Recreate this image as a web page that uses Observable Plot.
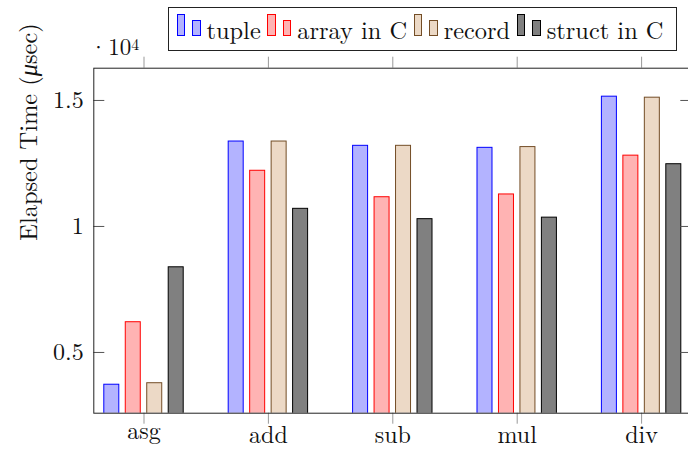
<!DOCTYPE html>
<html>
<head>
<meta charset="utf-8">
<script src="https://cdn.jsdelivr.net/npm/d3@7"></script>
<script src="https://cdn.jsdelivr.net/npm/@observablehq/plot@0.6"></script>
<style>
html, body { margin: 0; padding: 0; overflow: hidden; background: #fff; }
#wrap { position: relative; width: 688px; height: 450px; overflow: hidden; font-family: 'Latin Modern Roman'; }
#legend { position: absolute; left: 167.5px; top: 7.3px; height: 43.4px; box-sizing: border-box; border: 1px solid #222;
  background: #fff; display: flex; align-items: center; padding: 0 13px 3px 8px; }
.entry { display: flex; align-items: flex-end; margin-right: 6.5px; }
.entry:last-child { margin-right: 0; }
.bars { display: flex; align-items: flex-end; margin-bottom: 5px; margin-right: 6px; }
.sw { width: 8.5px; box-sizing: border-box; border: 1px solid; }
.sw1 { height: 21.4px; margin-right: 7px; }
.sw2 { height: 15.8px; }
.lab { font-family: 'Latin Modern Roman'; font-size: 24.4px; line-height: 24px; color: #111; white-space: nowrap; }
</style>
</head>
<body>
<div id="wrap"><div id="legend"></div></div>
<script>
// ---- data ----
const operations   = ["asg", "add", "sub", "mul", "div"];
const seriesNames  = ["tuple", "array in C", "record", "struct in C"];
const tupleTimes   = [3720, 13370, 13200, 13120, 15150];
const arrayCTimes  = [6200, 12210, 11160, 11270, 12810];
const recordTimes  = [3780, 13370, 13200, 13150, 15110];
const structCTimes = [8380, 10700, 10290, 10350, 12470];
const yTicks       = [5000, 10000, 15000];
const yLabel       = "Elapsed Time (μsec)";
const scaleDot     = "·";
const scaleBase    = "10";
const scaleExp     = "4";

// ---- styles ----
const fills   = ["#b3b3ff", "#ffb3b3", "#ecd9c6", "#808080"];
const strokes = ["#0000ff", "#ff0000", "#734d26", "#000000"];
const serif = "Latin Modern Roman";

const seriesValues = [tupleTimes, arrayCTimes, recordTimes, structCTimes];
const rows = [];
seriesValues.forEach((vals, s) => vals.forEach((v, i) =>
  rows.push({op: operations[i], i, s, series: seriesNames[s], value: v})));
const cats = operations.map((op, i) => ({op, i}));

const W = 688, H = 450, mL = 93.3, mR = -3.3, mT = 67.7, mB = 37.3;
const frameW = W - mL - mR, frameH = H - mT - mB;
const groupPx = 124.4;
const pad = (frameW / groupPx - (operations.length - 1)) / 2;
const barStep = 21.47 / groupPx, barW = 15 / groupPx;
const off = d => (d.s - (seriesNames.length - 1) / 2) * barStep;
const tickLen = 11;
const hasAsc = d => /[bdfhklt]/.test(d.op);

const chart = Plot.plot({
  width: W, height: H,
  marginLeft: mL, marginRight: mR, marginTop: mT, marginBottom: mB,
  style: {fontFamily: serif, fontSize: "24px", background: "transparent", color: "#111"},
  x: {type: "linear", domain: [-pad, operations.length - 1 + pad], axis: null},
  y: {domain: [2590, 16280], axis: null},
  marks: [
    Plot.rect(rows, {
      x1: d => d.i + off(d) - barW / 2,
      x2: d => d.i + off(d) + barW / 2,
      y1: 0, y2: "value",
      fill: d => fills[d.s], stroke: d => strokes[d.s], strokeWidth: 1, clip: true
    }),
    // y ticks (inward, left and right)
    Plot.tickY(yTicks, {y: d => d, insetRight: frameW - tickLen, stroke: "#555", strokeWidth: 1}),
    Plot.tickY(yTicks, {y: d => d, insetLeft: frameW - tickLen, stroke: "#555", strokeWidth: 1}),
    // x ticks (outward, bottom and top)
    Plot.tickX(cats, {x: "i", insetTop: frameH, insetBottom: -tickLen, stroke: "#999", strokeWidth: 1}),
    Plot.tickX(cats, {x: "i", insetTop: -tickLen, insetBottom: frameH, stroke: "#999", strokeWidth: 1}),
    Plot.frame({stroke: "#222", strokeWidth: 1}),
    // x labels
    Plot.text(cats, {filter: hasAsc, x: "i", text: "op", frameAnchor: "bottom", lineAnchor: "bottom", dy: 29.8, fontSize: 24, fill: "#111"}),
    Plot.text(cats, {filter: d => !hasAsc(d), x: "i", text: "op", frameAnchor: "bottom", lineAnchor: "bottom", dy: 25.8, fontSize: 24, fill: "#111"}),
    // y labels
    Plot.axisY(yTicks, {anchor: "left", tickSize: 0, tickPadding: 10, tickFormat: d => String(d / 1e4), fontSize: 24, label: null, fill: "#111"}),
    Plot.text([yLabel], {frameAnchor: "left", rotate: -90, dx: -57.3, lineAnchor: "bottom", fontSize: 24.4, fill: "#111"}),
    // scale factor ·10^4
    Plot.text([scaleDot], {frameAnchor: "top-left", textAnchor: "end", lineAnchor: "bottom", dx: 13.6, dy: -12.7, fontSize: 23, fill: "#111"}),
    Plot.text([scaleBase], {frameAnchor: "top-left", textAnchor: "start", lineAnchor: "bottom", dx: 14.4, dy: -12.7, fontSize: 23, fill: "#111"})
  ]
});
document.getElementById("wrap").prepend(chart);

// rich text touches
d3.select(chart).selectAll("text").each(function() {
  const t = d3.select(this);
  const s = this.textContent;
  t.attr("font-family", serif);
  if (s === yLabel) {
    t.text(null);
    const k = s.indexOf("μ");
    t.append("tspan").text(s.slice(0, k));
    t.append("tspan").attr("font-style", "italic").text("μ");
    t.append("tspan").text(s.slice(k + 1));
  } else if (s === scaleBase) {
    t.append("tspan").attr("font-size", 16).attr("dy", -5).text(scaleExp);
  }
});

// legend
const legend = d3.select("#legend");
seriesNames.forEach((name, s) => {
  const e = legend.append("div").attr("class", "entry");
  const b = e.append("div").attr("class", "bars");
  b.append("div").attr("class", "sw sw1").style("background", fills[s]).style("border-color", strokes[s]);
  b.append("div").attr("class", "sw sw2").style("background", fills[s]).style("border-color", strokes[s]);
  e.append("span").attr("class", "lab").text(name);
});
</script>
</body>
</html>
